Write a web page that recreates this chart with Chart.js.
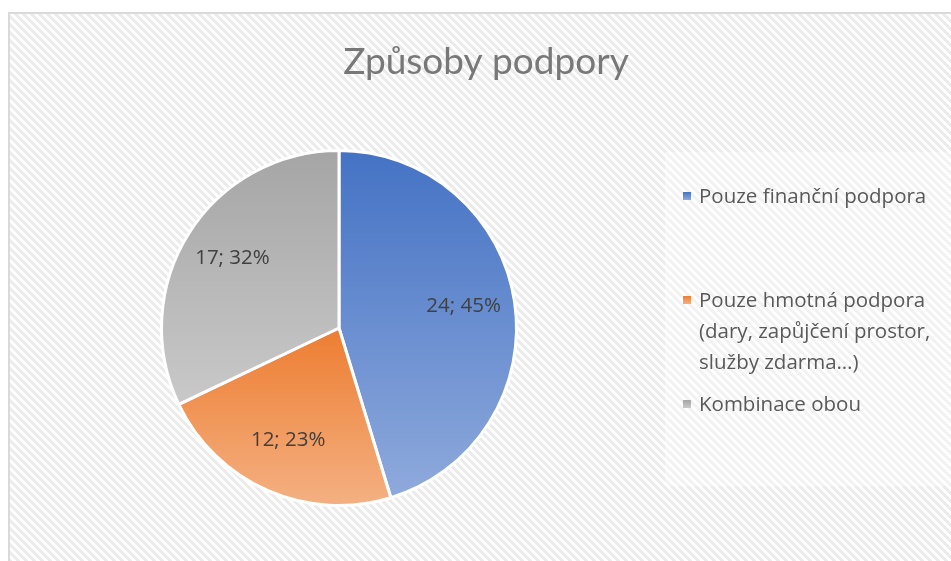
<!DOCTYPE html>
<html>
<head>
<meta charset="utf-8">
<script src="https://cdn.jsdelivr.net/npm/chart.js@4"></script>
<style>
  html, body { margin: 0; padding: 0; background: #fff; }
  #wrap { width: 951px; height: 561px; position: relative; }
</style>
</head>
<body>
<div id="wrap"><canvas id="pie"></canvas></div>
<script>
// chart data
const title = 'Způsoby podpory';
const categories = [
  ['Pouze finanční podpora'],
  ['Pouze hmotná podpora', '(dary, zapůjčení prostor,', 'služby zdarma…)'],
  ['Kombinace obou']
];
const values = [24, 12, 17];
const colorsTop = ['#4472C4', '#ED7D31', '#A5A5A5'];
const colorsBottom = ['#8FAADC', '#F4B183', '#C9C9C9'];

const total = values.reduce((a, b) => a + b, 0);

// vertical extent of slice i, from the data angles
function sliceExtent(i, cx, cy, r) {
  let before = 0;
  for (let k = 0; k < i; k++) before += values[k];
  const a0 = -Math.PI / 2 + before / total * Math.PI * 2;
  const a1 = a0 + values[i] / total * Math.PI * 2;
  let minY = cy, maxY = cy;
  for (let s = 0; s <= 100; s++) {
    const a = a0 + (a1 - a0) * s / 100;
    const y = cy + r * Math.sin(a);
    minY = Math.min(minY, y);
    maxY = Math.max(maxY, y);
  }
  return [minY, maxY];
}

function sliceFill(context) {
  const chart = context.chart;
  const area = chart.chartArea;
  const i = context.dataIndex;
  if (!area) return colorsTop[i];
  const cx = (area.left + area.right) / 2;
  const cy = (area.top + area.bottom) / 2;
  const r = Math.min(area.right - area.left, area.bottom - area.top) / 2;
  const [y0, y1] = sliceExtent(i, cx, cy, r);
  const g = chart.ctx.createLinearGradient(0, y0, 0, y1);
  g.addColorStop(0, colorsTop[i]);
  g.addColorStop(1, colorsBottom[i]);
  return g;
}

function makeStripes() {
  const c = document.createElement('canvas');
  c.width = 8; c.height = 8;
  const x = c.getContext('2d');
  x.fillStyle = '#ffffff';
  x.fillRect(0, 0, 8, 8);
  x.fillStyle = '#ebebeb';
  for (let py = 0; py < 8; py++) {
    for (let px = 0; px < 8; px++) {
      if (((px - py) % 8 + 8) % 8 < 4) x.fillRect(px, py, 1, 1);
    }
  }
  return c;
}

const frame = {
  id: 'frame',
  beforeDraw(chart) {
    const ctx = chart.ctx;
    ctx.save();
    ctx.fillStyle = '#ffffff';
    ctx.fillRect(0, 0, chart.width, chart.height);
    ctx.fillStyle = ctx.createPattern(makeStripes(), 'repeat');
    ctx.fillRect(9, 13, chart.width, chart.height);
    // lighter box behind legend
    ctx.fillStyle = 'rgba(255,255,255,0.35)';
    ctx.fillRect(665, 152, 290, 334);
    ctx.strokeStyle = '#d9d9d9';
    ctx.lineWidth = 2;
    ctx.strokeRect(9, 13, chart.width + 10, chart.height + 10);
    ctx.restore();
  },
  afterDraw(chart) {
    const ctx = chart.ctx;
    ctx.save();
    ctx.fillStyle = '#787878';
    ctx.font = '37px Lato';
    ctx.textAlign = 'center';
    ctx.textBaseline = 'middle';
    ctx.fillText(title, 486, 62);

    // legend
    ctx.font = '20.5px "Open Sans"';
    ctx.textAlign = 'left';
    const rowY = [196, 300, 404];
    const lineH = 31;
    categories.forEach((lines, i) => {
      const g = ctx.createLinearGradient(0, rowY[i] - 4, 0, rowY[i] + 4);
      g.addColorStop(0, colorsTop[i]);
      g.addColorStop(1, colorsBottom[i]);
      ctx.fillStyle = g;
      ctx.fillRect(683, rowY[i] - 4, 8, 8);
      ctx.fillStyle = '#595959';
      lines.forEach((t, k) => ctx.fillText(t, 699, rowY[i] + k * lineH + 1));
    });
    ctx.restore();
  },
  afterDatasetsDraw(chart) {
    const ctx = chart.ctx;
    const meta = chart.getDatasetMeta(0);
    ctx.save();
    ctx.fillStyle = '#404040';
    ctx.font = '20.5px "Open Sans"';
    ctx.textAlign = 'center';
    ctx.textBaseline = 'middle';
    meta.data.forEach((arc, i) => {
      const p = arc.getProps(['x', 'y', 'startAngle', 'endAngle', 'outerRadius'], true);
      const mid = (p.startAngle + p.endAngle) / 2;
      const rr = p.outerRadius * 0.71;
      const pct = Math.round(values[i] / total * 100);
      ctx.fillText(values[i] + '; ' + pct + '%', p.x + rr * Math.cos(mid), p.y + rr * Math.sin(mid) - 3);
    });
    ctx.restore();
  }
};

new Chart(document.getElementById('pie'), {
  type: 'pie',
  data: {
    labels: categories.map(c => c.join(' ')),
    datasets: [{
      data: values,
      backgroundColor: sliceFill,
      borderColor: '#ffffff',
      borderWidth: 3,
      hoverOffset: 0,
      offset: 0
    }]
  },
  options: {
    responsive: true,
    maintainAspectRatio: false,
    animation: false,
    layout: { padding: { left: 160, right: 433, top: 148, bottom: 53 } },
    plugins: {
      legend: { display: false },
      tooltip: { enabled: false },
      title: { display: false }
    }
  },
  plugins: [frame]
});
</script>
</body>
</html>
